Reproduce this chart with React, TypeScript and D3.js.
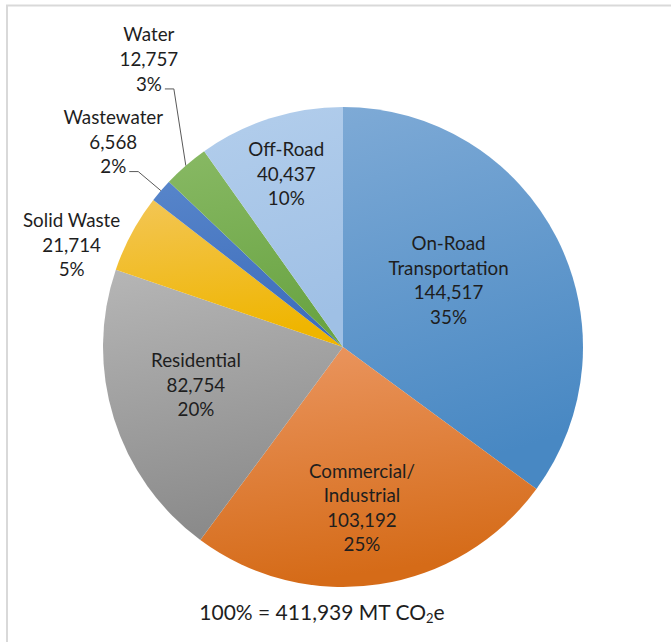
import React from "react";
import * as d3 from "d3";

const WIDTH = 671;
const HEIGHT = 642;

// Sectors in drawing order, clockwise from 12 o'clock
const categories = [
  ["On-Road", "Transportation"],
  ["Commercial/", "Industrial"],
  ["Residential"],
  ["Solid Waste"],
  ["Wastewater"],
  ["Water"],
  ["Off-Road"],
];
const emissions = [144517, 103192, 82754, 21714, 6568, 12757, 40437];
const totalLabel = "100% = 411,939 MT CO";

// gradient stops per slice: [top, bottom]
const COLORS = [
  ["#7eaad6", "#4888c3"],
  ["#eb9762", "#d56b18"],
  ["#b6b6b6", "#8b8b8b"],
  ["#f3c656", "#efb500"],
  ["#5785ca", "#3e6ebc"],
  ["#88b964", "#6aa443"],
  ["#b3ceec", "#9fc0e5"],
];

// label placement: [radius as fraction of pie radius, angle nudge in degrees, outside?]
const LABEL_LAYOUT: [number, number, boolean][] = [
  [0.52, -5.4, false],
  [0.675, 1.9, false],
  [0.633, 2.9, false],
  [1.208, -7.7, true],
  [1.283, 1.1, true],
  [1.446, 6.9, true],
  [0.758, -0.5, false],
];

const CX = 343;
const CY = 347;
const R = 240;
const LINE_H = 24.6;
const FONT = "Lato, 'Open Sans', sans-serif";

export default function App() {
  const total = d3.sum(emissions);
  const pie = d3
    .pie<number>()
    .sort(null)
    .value((d) => d)
    .startAngle(0)
    .endAngle(2 * Math.PI);
  const arcs = pie(emissions);
  const arc = d3.arc<d3.PieArcDatum<number>>().innerRadius(0).outerRadius(R);
  const fmt = d3.format(",");

  return (
    <svg
      width={WIDTH}
      height={HEIGHT}
      style={{ position: "absolute", left: 0, top: 0, background: "#fff" }}
      fontFamily={FONT}
    >
      <defs>
        {COLORS.map((c, i) => (
          <linearGradient key={i} id={`g${i}`} x1="0" y1="0" x2="0.2" y2="1">
            <stop offset="0" stopColor={c[0]} />
            <stop offset="1" stopColor={c[1]} />
          </linearGradient>
        ))}
      </defs>
      <rect
        x={7}
        y={5.5}
        width={WIDTH + 20}
        height={HEIGHT + 20}
        fill="none"
        stroke="#d9d9d9"
        strokeWidth={2}
      />
      <g transform={`translate(${CX},${CY})`}>
        {arcs.map((a, i) => (
          <path key={i} d={arc(a) as string} fill={`url(#g${i})`} />
        ))}
        {arcs.map((a, i) => {
          const [rf, nudge, outside] = LABEL_LAYOUT[i];
          const mid = (a.startAngle + a.endAngle) / 2;
          const ang = mid + (nudge * Math.PI) / 180;
          const lx = Math.sin(ang) * R * rf;
          const ly = -Math.cos(ang) * R * rf;
          const lines = [
            ...categories[i],
            fmt(emissions[i]),
            `${Math.round((emissions[i] / total) * 100)}%`,
          ];
          const y0 = ly - ((lines.length - 1) * LINE_H) / 2;
          const lastY = y0 + (lines.length - 1) * LINE_H;
          let leader = null;
          if (outside && i !== 3) {
            const sx = Math.sin(mid) * R;
            const sy = -Math.cos(mid) * R;
            const ey = lastY + 5;
            leader = (
              <polyline
                points={`${sx},${sy} ${lx + 25},${ey} ${lx + 16},${ey}`}
                fill="none"
                stroke="#595959"
                strokeWidth={1}
              />
            );
          }
          return (
            <g key={`l${i}`}>
              {leader}
              <text textAnchor="middle" fontSize={18.8} fill="#1e1e1e">
                {lines.map((t, j) => (
                  <tspan key={j} x={lx} y={y0 + j * LINE_H} dy="0.35em">
                    {t}
                  </tspan>
                ))}
              </text>
            </g>
          );
        })}
      </g>
      <text
        x={322}
        y={613}
        dy="0.35em"
        textAnchor="middle"
        fontSize={21}
        fill="#1e1e1e"
      >
        {totalLabel}
        <tspan fontSize={13} dy="3">
          2
        </tspan>
        <tspan dy="-3">e</tspan>
      </text>
    </svg>
  );
}
